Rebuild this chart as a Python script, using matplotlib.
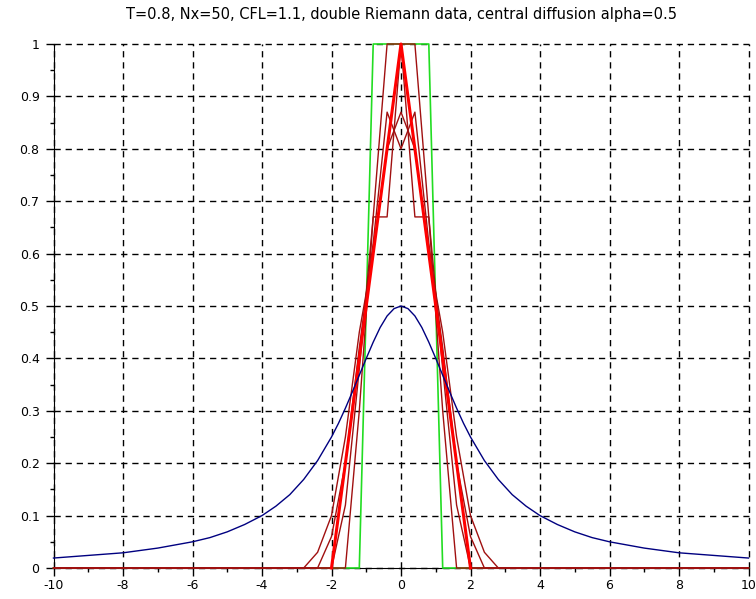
# %% HEADER
# Double Riemann data, central diffusion scheme at T=0.8

# %% IMPORTS
import matplotlib
matplotlib.use("Agg")
import matplotlib.pyplot as plt

# %% DATA
# Initial condition (green box with linear ramps)
x_init = [-10, -1.2, -0.8, 0.8, 1.2, 10]
u_init = [0, 0, 1, 1, 0, 0]

# Blue curve
x_blue = [-10, -9, -8, -7, -6, -5.5, -5, -4.5, -4, -3.6, -3.2, -2.8, -2.4, -2.0,
          -1.8, -1.6, -1.4, -1.2, -1.0, -0.8, -0.6, -0.4, -0.2, 0, 0.2, 0.4,
          0.6, 0.8, 1.0, 1.2, 1.4, 1.6, 1.8, 2.0, 2.4, 2.8, 3.2, 3.6, 4, 4.5,
          5, 5.5, 6, 7, 8, 9, 10]
u_blue = [0.019, 0.024, 0.029, 0.038, 0.050, 0.058, 0.069, 0.083, 0.100, 0.118,
          0.140, 0.169, 0.205, 0.250, 0.276, 0.305, 0.336, 0.368, 0.400, 0.431,
          0.459, 0.481, 0.495, 0.500, 0.495, 0.481, 0.459, 0.431, 0.400, 0.368,
          0.336, 0.305, 0.276, 0.250, 0.205, 0.169, 0.140, 0.118, 0.100, 0.083,
          0.069, 0.058, 0.050, 0.038, 0.029, 0.024, 0.019]

# Numerical solutions (thin dark red)
x_num1 = [-10, -1.6, -1.2, -0.8, -0.4, 0, 0.4, 0.8, 1.2, 1.6, 10]
u_num1 = [0, 0, 0.30, 0.67, 1.0, 1.0, 1.0, 0.67, 0.30, 0, 0]

x_num2 = [-10, -2.0, -1.6, -1.2, -0.8, -0.4, 0, 0.4, 0.8, 1.2, 1.6, 2.0, 10]
u_num2 = [0, 0, 0.12, 0.38, 0.67, 0.67, 1.0, 0.67, 0.67, 0.38, 0.12, 0, 0]

x_num3 = [-10, -2.4, -2.0, -1.6, -1.2, -0.8, -0.4, 0, 0.4, 0.8, 1.2, 1.6, 2.0,
          2.4, 10]
u_num3 = [0, 0, 0.06, 0.20, 0.42, 0.62, 0.87, 0.80, 0.87, 0.62, 0.42, 0.20,
          0.06, 0, 0]

x_num4 = [-10, -2.8, -2.4, -2.0, -1.6, -1.2, -0.8, -0.4, 0, 0.4, 0.8, 1.2, 1.6,
          2.0, 2.4, 2.8, 10]
u_num4 = [0, 0, 0.03, 0.10, 0.25, 0.45, 0.60, 0.80, 0.87, 0.80, 0.60, 0.45,
          0.25, 0.10, 0.03, 0, 0]

# Tent (thick bright red)
x_tent = [-2.0, -1.6, -1.2, -0.8, -0.4, 0, 0.4, 0.8, 1.2, 1.6, 2.0]
u_tent = [0, 0.2, 0.4, 0.6, 0.8, 1.0, 0.8, 0.6, 0.4, 0.2, 0]

x_ticks = [-10, -8, -6, -4, -2, 0, 2, 4, 6, 8, 10]
x_minor = [-9, -7, -5, -3, -1, 1, 3, 5, 7, 9]
y_ticks = [0, 0.1, 0.2, 0.3, 0.4, 0.5, 0.6, 0.7, 0.8, 0.9, 1]
y_minor = [0.05, 0.15, 0.25, 0.35, 0.45, 0.55, 0.65, 0.75, 0.85, 0.95]
y_tick_labels = ["0", "0.1", "0.2", "0.3", "0.4", "0.5", "0.6", "0.7", "0.8",
                 "0.9", "1"]

title = "T=0.8, Nx=50, CFL=1.1, double Riemann data, central diffusion alpha=0.5"

# %% PLOT
plt.rcParams["axes.unicode_minus"] = False
plt.rcParams["font.family"] = "DejaVu Sans"

fig = plt.figure(figsize=(7.56, 5.99), dpi=100)
ax = fig.add_axes([53.5 / 756, 31 / 599, 695 / 756, 524 / 599])

ax.plot(x_init, u_init, color="#22dd22", lw=1.2, zorder=3, clip_on=False)
for xs, us in [(x_num1, u_num1), (x_num2, u_num2), (x_num3, u_num3),
               (x_num4, u_num4)]:
    ax.plot(xs, us, color="#a01010", lw=1.0, zorder=4, clip_on=False)
ax.plot(x_tent, u_tent, color="#ff0000", lw=2.2, zorder=5, clip_on=False)
ax.plot(x_blue, u_blue, color="#000080", lw=1.0, zorder=6, clip_on=False)

ax.set_xlim(-10, 10)
ax.set_ylim(0, 1)
ax.set_xticks(x_ticks)
ax.set_yticks(y_ticks)
ax.set_yticklabels(y_tick_labels)
ax.set_xticks(x_minor, minor=True)
ax.set_yticks(y_minor, minor=True)

ax.spines["top"].set_visible(False)
ax.spines["right"].set_visible(False)
ax.tick_params(which="major", direction="out", length=6, width=1,
               labelsize=9, pad=2)
ax.tick_params(axis="y", which="major", pad=4)
ax.tick_params(which="minor", direction="out", length=3, width=1)

ax.grid(True, which="major", color="black", linestyle=(0, (4.5, 3.5)),
        linewidth=1.0)
for line in ax.get_xgridlines() + ax.get_ygridlines():
    line.set_clip_on(False)
ax.set_axisbelow(True)

fig.text(401 / 756, 1 - 14 / 599, title, ha="center", va="center",
         fontsize=10.5)

fig.savefig("out.png", dpi=100)
